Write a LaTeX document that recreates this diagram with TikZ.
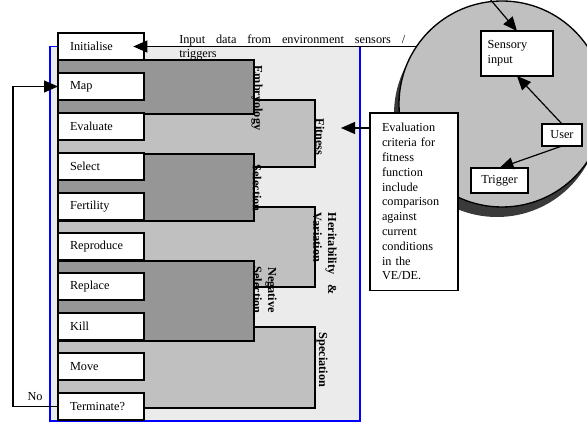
\documentclass[tikz,border=0pt]{standalone}
\usepackage{fontspec}
\setmainfont{Liberation Serif}
\usetikzlibrary{arrows.meta}
\definecolor{dkg}{HTML}{969696}
\definecolor{ltg}{HTML}{C0C0C0}
\definecolor{tex}{HTML}{EBEBEB}
\definecolor{shd}{HTML}{3A3A3A}
\definecolor{frameblue}{HTML}{0000FF}
\tikzset{
  fs/.style={font=\fontsize{9.2}{11.1}\selectfont},
  stepbox/.style={draw, line width=1pt, fill=white, minimum width=64.5pt, minimum height=20.25pt,
    inner xsep=9pt, inner ysep=0pt, text width=46.5pt, align=left, fs, outer sep=0pt},
  cbox/.style={draw, line width=1pt, fill=white, fs, outer sep=0pt},
  darkblk/.style={draw, line width=0.9pt, fill=dkg},
  lightblk/.style={draw, line width=0.9pt, fill=ltg},
  vlab/.style={rotate=-90, font=\fontsize{9.2}{11.1}\selectfont\bfseries, inner sep=0pt},
  arr/.style={line width=0.9pt, -{Triangle[length=10.5pt,width=9pt]}},
}
\begin{document}
\begin{tikzpicture}[x=0.75pt,y=-0.75pt]
\useasboundingbox (0,0) rectangle (587,424);
% textured frame
\fill[tex] (50,46.5) rectangle (360,421);
\draw[frameblue, line width=0.8pt] (50,46.5) rectangle (360,421);
% light blocks
\draw[lightblk] (58,100) rectangle (315,167);
\draw[lightblk] (58,207) rectangle (315,287);
\draw[lightblk] (58,327) rectangle (315,408);
% dark blocks
\draw[darkblk] (58,60) rectangle (254,114);
\draw[darkblk] (58,154) rectangle (254,221);
\draw[darkblk] (58,261) rectangle (254,341);
% step boxes
\node[stepbox] (init) at (101,46.5) {Initialise};
\node[stepbox] (map)  at (101,86.5) {Map};
\node[stepbox] (eva)  at (101,126.5) {Evaluate};
\node[stepbox] (sel)  at (101,166.5) {Select};
\node[stepbox] (fer)  at (101,206.5) {Fertility};
\node[stepbox] (rep)  at (101,246.5) {Reproduce};
\node[stepbox] (rpl)  at (101,286.5) {Replace};
\node[stepbox] (kil)  at (101,326.5) {Kill};
\node[stepbox] (mov)  at (101,366.5) {Move};
\node[stepbox] (term) at (101,406.5) {Terminate?};
% rotated labels
\node[vlab] (lemb) at (257,98) {Embryology};
\node[vlab] (lfit) at (320,137) {Fitness};
\node[vlab] (lsel) at (257,188) {Selection};
\node[vlab, text width=61.5pt, align=left] (lher) at (325,254) {Heritability\hfill\&\\Variation};
\node[vlab, align=center] (lneg) at (265,290) {Negative\\Selection};
\node[vlab] (lspe) at (322,360) {Speciation};
% input text
\node[font=\fontsize{9.2}{10.5}\selectfont, text width=169.5pt, align=left, inner sep=0pt, anchor=north west] (inp) at (179,34.6)
  {Input\hfill data\hfill from\hfill environment\hfill sensors\hfill /\\triggers};
% environment circle
\fill[shd] (497,114) circle [radius=103];
\node[circle, draw, line width=1pt, fill=ltg, minimum size=154.5pt, inner sep=0pt, outer sep=0pt] (env) at (502,104) {};
\node[cbox, text width=44pt, inner xsep=5pt, minimum height=33.75pt, align=left] (sens) at (517,53.5) {Sensory\\input};
\node[cbox, minimum width=30pt, minimum height=16.5pt, inner sep=0pt] (user) at (562,135) {User};
\node[cbox, minimum width=42.75pt, minimum height=18.75pt, inner sep=0pt] (trig) at (499.5,180.5) {Trigger};
% evaluation box
\node[cbox, text width=48pt, inner xsep=9pt, inner ysep=0pt, minimum height=133pt, align=left, anchor=north west] (eval) at (370,113)
  {Evaluation\\criteria for\\fitness\\function\\include\\comparison\\against\\current\\conditions\\in the\\VE/DE.};
% connectors
\coordinate (circin) at (416.5,46.5);
\draw[arr] (circin) -- ([xshift=-8pt]init.east);
\coordinate (loopc) at (13,406.5);
\draw[arr] (term.west) -- (loopc) |- (map.west);
\node[fs] (no) at (35,397) {No};
\coordinate (fitpt) at (341,128);
\draw[arr] (fitpt -| eval.west) -- (fitpt);
\coordinate (skysrc) at (484,-8);
\draw[arr] (skysrc) -- (sens.north);
\draw[arr] (user.north) -- (sens.south);
\draw[arr] (user.south) -- (trig.north);
\end{tikzpicture}
\end{document}
